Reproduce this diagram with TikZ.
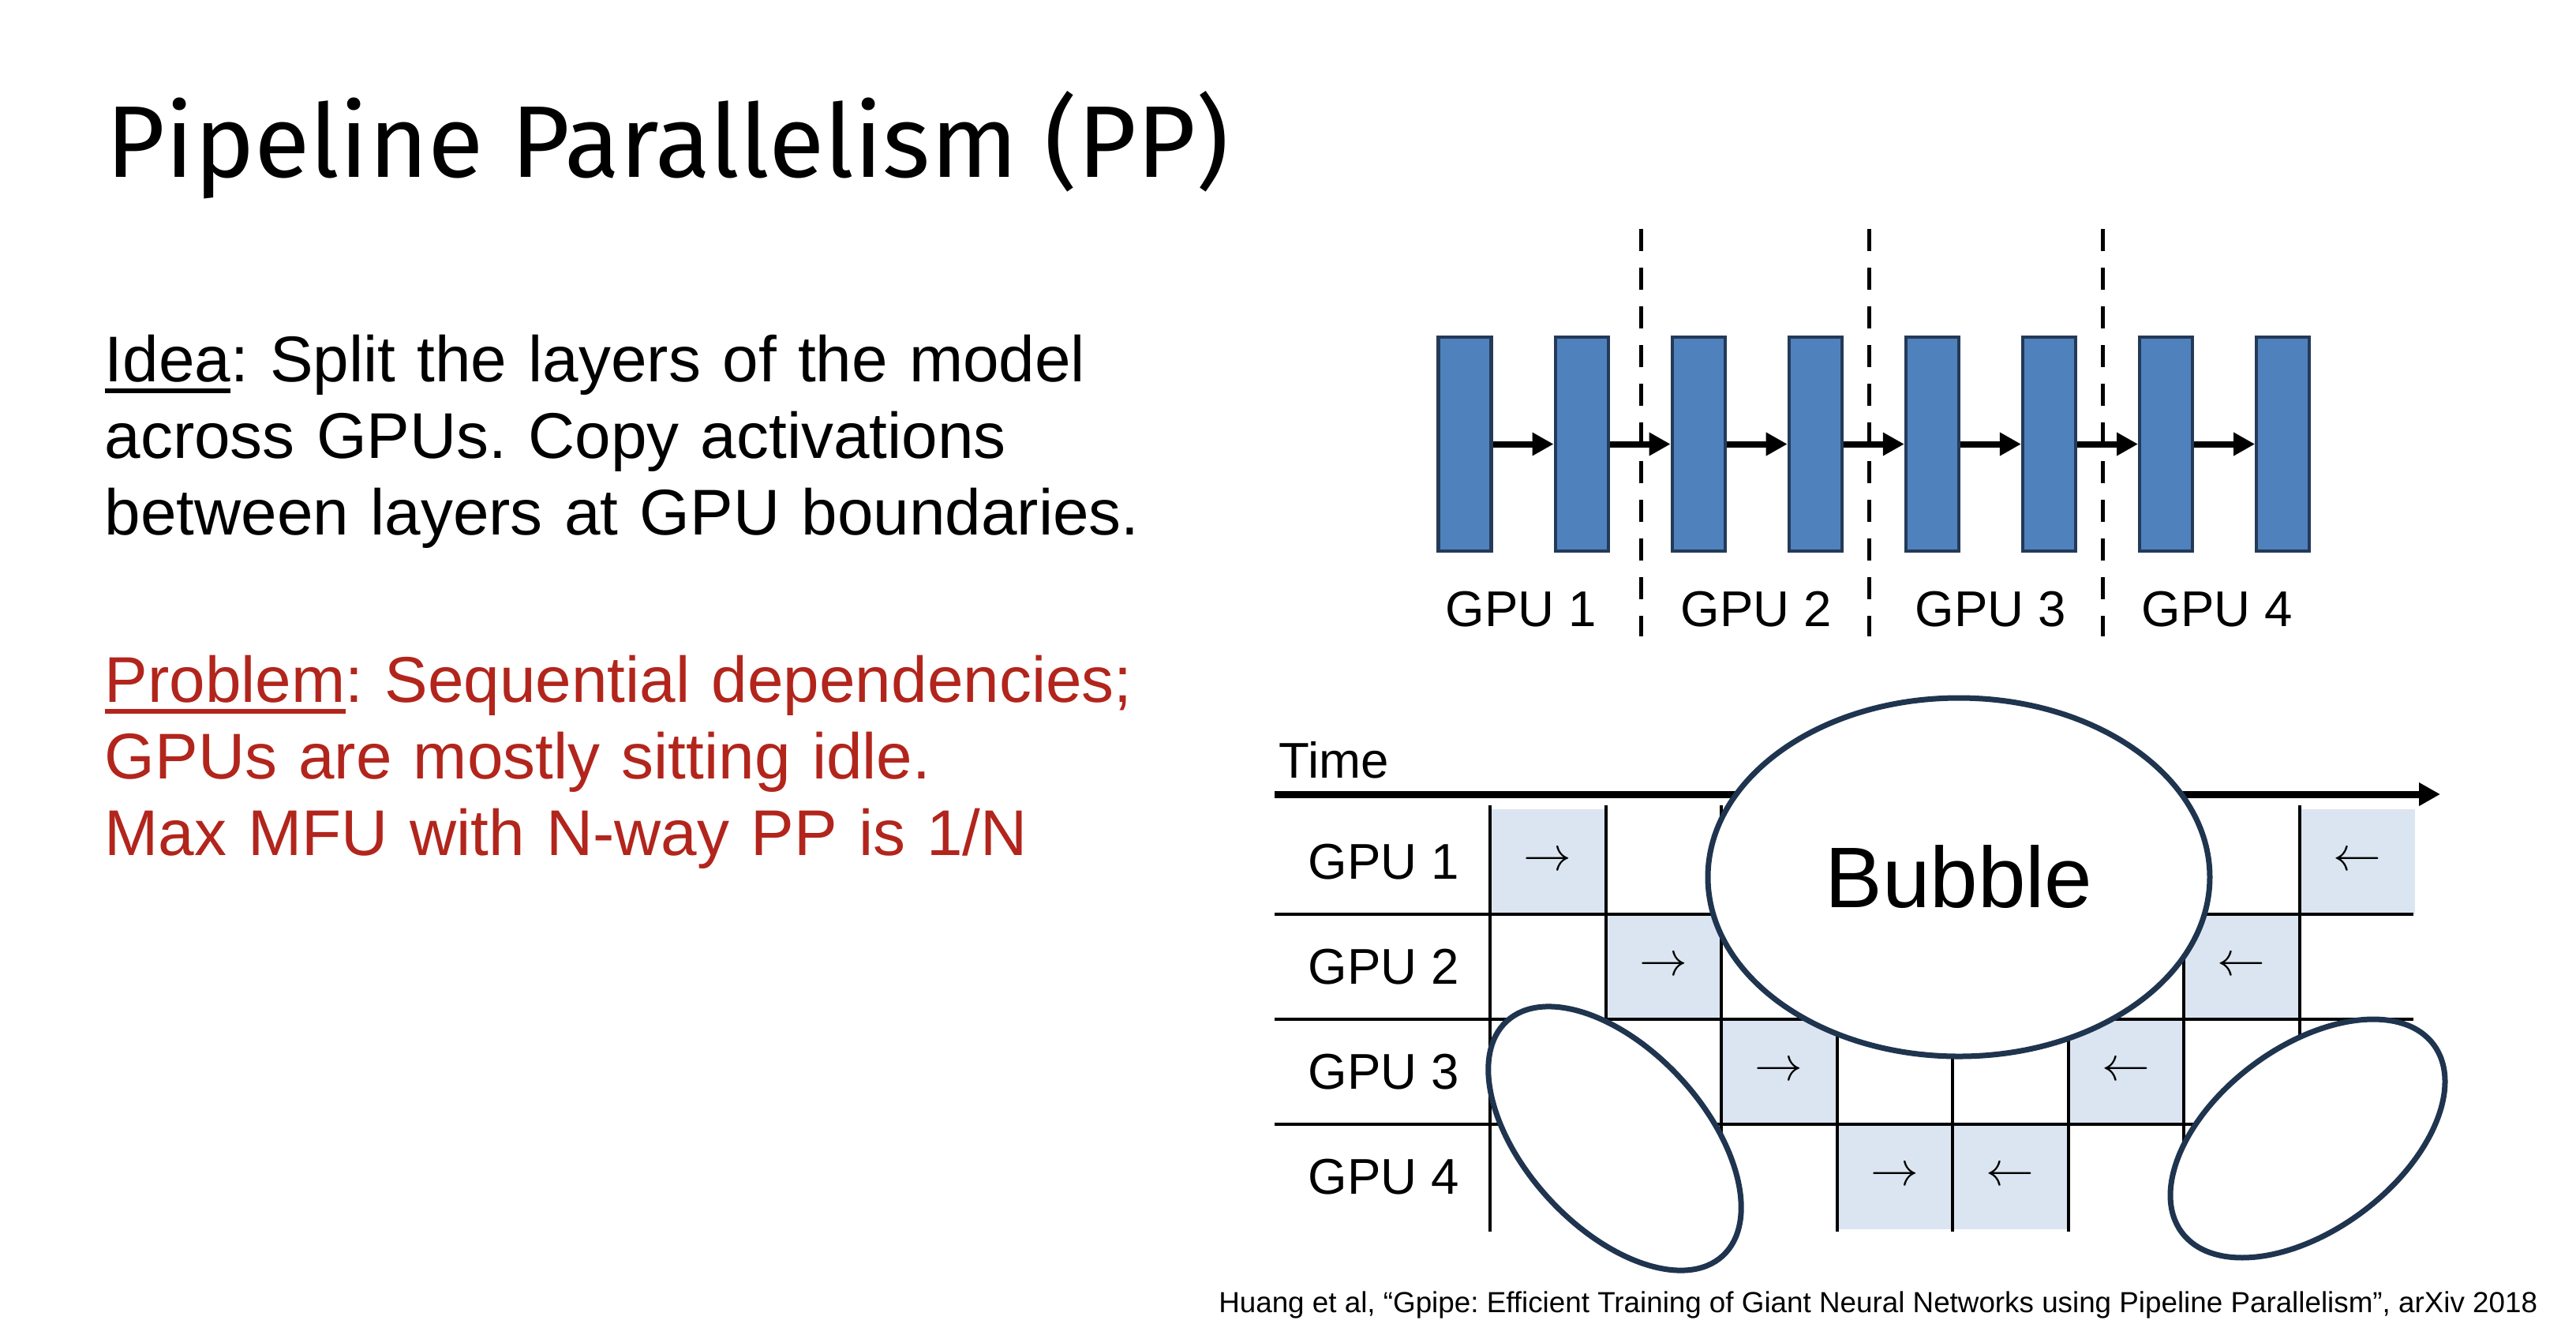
\documentclass[tikz,border=0pt]{standalone}
\usepackage{fontspec}
\setmainfont{Liberation Sans}
\newfontfamily\titlefont{Fira Sans}
\usepackage{tikz}
\usetikzlibrary{arrows.meta,calc,positioning,shapes.geometric}
\definecolor{layerblue}{RGB}{79,129,189}
\definecolor{layeredge}{RGB}{36,58,88}
\definecolor{cellblue}{RGB}{219,229,241}
\definecolor{bubbleedge}{RGB}{31,52,78}
\definecolor{problemred}{RGB}{178,37,28}
\def\layersep{1.481}
\def\colsep{1.465}
\def\rowsep{1.33}
\newcommand{\ulword}[1]{\setbox0\hbox{#1}\rlap{\rule[-0.15cm]{\wd0}{0.06cm}}\box0}
\frenchspacing

\begin{document}
\begin{tikzpicture}[>={Triangle[length=0.27cm,width=0.28cm]}]
    \tikzstyle{layer}=[rectangle, draw=layeredge, line width=1.2pt, fill=layerblue, minimum width=0.67cm, minimum height=2.71cm, inner sep=0pt]
    \tikzstyle{flow}=[->, line width=0.08cm]
    \tikzstyle{boundary}=[line width=0.05cm, dash pattern=on 0.28cm off 0.21cm]
    \tikzstyle{gpu}=[inner sep=0pt, font=\fontsize{18.1}{20}\selectfont]
    \tikzstyle{slot}=[fill=cellblue, minimum width=1.465cm, minimum height=1.33cm, inner sep=0pt, font=\fontsize{18}{21}\selectfont]
    \tikzstyle{grid}=[line width=0.04cm]
    \tikzstyle{idle}=[ellipse, draw=bubbleedge, line width=0.07cm, fill=white, inner sep=0pt]
    \tikzstyle{body}=[anchor=base west, inner sep=0pt, align=left, text width=16cm, font=\fontsize{23.3}{27.7}\selectfont]

    \path[fill=white] (0,0) rectangle (32.64,-16.76);

    % Title and the text on the left
    \node[anchor=base west, inner sep=0pt, font=\titlefont\fontsize{36.7}{42}\selectfont] (title) at (1.34,-2.24) {Pipeline Parallelism (PP)};
    \node[body] (idea) at (1.32,-4.83) {\ulword{Idea}: Split the layers of the model\\ across GPUs. Copy activations\\ between layers at GPU boundaries.};
    \node[body, text=problemred] (problem) at (1.32,-8.89) {\ulword{Problem}: Sequential dependencies;\\ GPUs are mostly sitting idle.\\ Max MFU with N-way PP is 1/N};

    % Draw the layers of the model
    \foreach \i in {1,...,8}
        \node[layer] (L\i) at ({18.56+\layersep*(\i-1)},-5.625) {};

    % Connect every layer with the next one
    \foreach \i/\j in {1/2,2/3,3/4,4/5,5/6,6/7,7/8}
        \draw[flow] (L\i.east) -- (L\j.west);

    % GPU boundaries
    \foreach \x in {20.79,23.68,26.64}
        \draw[boundary] (\x,-2.90) -- (\x,-8.06);
    \foreach \n/\x in {1/19.27,2/22.25,3/25.22,4/28.09}
        \node[gpu] (G\n) at (\x,-7.72) {GPU \n};

    % Time axis
    \node[gpu, anchor=base west] (time) at (16.20,-9.85) {Time};
    \coordinate (tstart) at (16.15,-10.06);
    \coordinate (tend) at (30.92,-10.06);
    \draw[->, line width=0.09cm] (tstart) -- (tend);

    % Forward and backward slots of each GPU
    \foreach \r/\c/\dir in {1/1/\rightarrow,2/2/\rightarrow,3/3/\rightarrow,4/4/\rightarrow,4/5/\leftarrow,3/6/\leftarrow,2/7/\leftarrow,1/8/\leftarrow}
        \node[slot] (S\r-\c) at ({18.88+\colsep*(\c-0.5)},{-10.25-\rowsep*(\r-0.5)}) {\raisebox{-0.08cm}{$\dir$}};
    \foreach \r in {1,...,4}
        \node[gpu] (R\r) at (17.53,{-10.25-\rowsep*(\r-0.5)}) {GPU \r};

    % Grid of the schedule
    \foreach \r in {1,2,3}
        \draw[grid] (16.15,{-10.25-\rowsep*\r}) -- (30.58,{-10.25-\rowsep*\r});
    \foreach \c in {0,...,7}
        \draw[grid] ({18.88+\colsep*\c},-10.20) -- ({18.88+\colsep*\c},-15.60);

    % Idle time
    \node[idle, minimum width=6.36cm, minimum height=4.54cm, font=\fontsize{31}{34}\selectfont] (bubble) at (24.82,-11.11) {Bubble};
    \node[idle, minimum width=4.04cm, minimum height=2.26cm, rotate=-47.3] (idleL) at (20.46,-14.42) {};
    \node[idle, minimum width=3.98cm, minimum height=2.32cm, rotate=36.7] (idleR) at (29.24,-14.42) {};

    \node[anchor=base east, inner sep=0pt, font=\fontsize{10.47}{12}\selectfont] (cite) at (32.16,-16.62) {Huang et al, “Gpipe: Efficient Training of Giant Neural Networks using Pipeline Parallelism”, arXiv 2018};
\end{tikzpicture}
\end{document}
